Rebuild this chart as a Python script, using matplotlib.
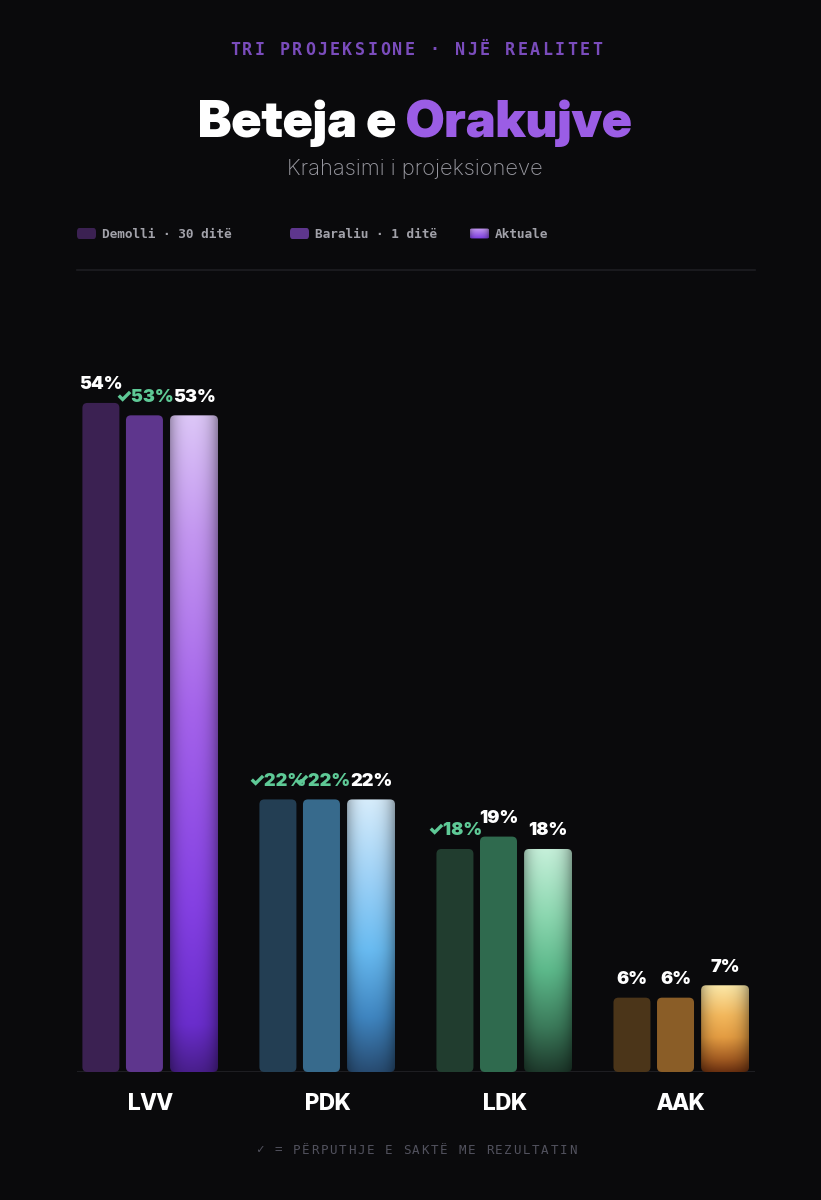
import numpy as np
import matplotlib
matplotlib.use("Agg")
import matplotlib.pyplot as plt
from matplotlib.patches import FancyBboxPatch
from matplotlib.colors import to_rgb

# --- data ---
parties = ["LVV", "PDK", "LDK", "AAK"]
demolli = [54, 22, 18, 6]
baraliu = [53, 22, 19, 6]
aktuale = [53, 22, 18, 7]
demolli_match = [False, True, True, False]
baraliu_match = [True, True, False, False]
series_names = ["Demolli · 30 ditë", "Baraliu · 1 ditë", "Aktuale"]

# colours per party
demolli_cols = ["#3b2152", "#233e53", "#213d2f", "#4b3519"]
baraliu_cols = ["#5e368d", "#376a8c", "#2f6a4e", "#8a5d27"]
aktuale_grad = [
    [(0.0, "#dcc6f7"), (0.18, "#c396f0"), (0.45, "#a463ea"), (0.75, "#8440e2"), (0.93, "#6a2dcc"), (1.0, "#4a1f8e")],
    [(0.0, "#d6ecfb"), (0.3, "#9bd0f6"), (0.55, "#69bbf1"), (0.8, "#3f85c0"), (1.0, "#284c72")],
    [(0.0, "#c6f0da"), (0.3, "#8cd7b0"), (0.55, "#5cb88a"), (0.8, "#3b7a5a"), (1.0, "#1e3a2c")],
    [(0.0, "#fbe8a8"), (0.35, "#f2b75c"), (0.6, "#e39c42"), (0.85, "#a35c22"), (1.0, "#6a3010")],
]

BG = "#0a0a0c"
GREEN = "#5ec996"
W, H = 821, 1200

fig = plt.figure(figsize=(W / 100, H / 100), dpi=100)
fig.patch.set_facecolor(BG)

# axes: x 77..755 px, y baseline 1072 px, top 300 px
ax = fig.add_axes([77 / W, (H - 1072) / H, (755 - 77) / W, (1072 - 300) / H])
ax.set_facecolor(BG)
ax.set_xlim(-0.415, 3.415)
ymax = (1072 - 300) / 12.39
ax.set_ylim(0, ymax)
ax.axis("off")
ax.axhline(0, color="#1e1e22", lw=1.5, zorder=1)

px_x = 177.0
px_y = 12.39
aspect = px_x / px_y
rad = 5 / px_x

offsets = [-0.28, -0.034, 0.246]
widths = [0.209, 0.209, 0.271]


def grad_image(stops, n=200, m=60):
    t = np.linspace(0, 1, n)
    pos = [s[0] for s in stops]
    cols = np.array([to_rgb(s[1]) for s in stops])
    img = np.zeros((n, m, 3))
    for c in range(3):
        col = np.interp(t, pos, cols[:, c])
        img[:, :, c] = col[:, None]
    # horizontal shading, darker edges
    u = np.linspace(-1, 1, m)
    shade = 1 - 0.28 * np.abs(u) ** 3 - 0.06 * np.clip(u, 0, 1)
    img = img * shade[None, :, None]
    return np.clip(img, 0, 1)


def rbar(x, w, h, color=None, stops=None):
    p = FancyBboxPatch((x - w / 2 + rad, rad * aspect), w - 2 * rad, h - 2 * rad * aspect,
                       boxstyle="round,pad=%f,rounding_size=%f" % (rad, rad),
                       mutation_aspect=aspect, lw=0,
                       facecolor=color if color else "none", zorder=2)
    ax.add_patch(p)
    if stops is not None:
        im = ax.imshow(grad_image(stops), extent=[x - w / 2, x + w / 2, 0, h],
                       aspect="auto", zorder=3, interpolation="bilinear")
        im.set_clip_path(p)


val_font = ["Inter", "DejaVu Sans"]
disp_font = ["Inter Display", "Inter", "DejaVu Sans"]


def label(x, h, v, match):
    txt = ("✓" if match else "") + "%d%%" % v
    ax.annotate(txt, (x, h), xytext=(0, 7), textcoords="offset points",
                ha="center", va="bottom", fontsize=13, fontweight=900,
                family=val_font, color=GREEN if match else "white", zorder=5)


for i in range(len(parties)):
    x0 = offsets[0] + i
    rbar(x0, widths[0], demolli[i], color=demolli_cols[i])
    label(x0, demolli[i], demolli[i], demolli_match[i])
    x1 = offsets[1] + i
    rbar(x1, widths[1], baraliu[i], color=baraliu_cols[i])
    label(x1, baraliu[i], baraliu[i], baraliu_match[i])
    x2 = offsets[2] + i
    rbar(x2, widths[2], aktuale[i], stops=aktuale_grad[i])
    label(x2, aktuale[i], aktuale[i], False)
    fig.text((150.5 + 177 * i) / W, 1 - 1104 / H, parties[i], ha="center", va="center",
             fontsize=16, fontweight=800, family=disp_font, color="white")


def spaced(text, cx, cy, pitch, **kw):
    n = len(text)
    start = cx - pitch * (n - 1) / 2
    for k, ch in enumerate(text):
        fig.text((start + k * pitch) / W, 1 - cy / H, ch, ha="center", va="center", **kw)


# kicker
spaced("TRI PROJEKSIONE · NJË REALITET", 416, 50, 12.5,
       fontsize=12, fontweight="bold", family="DejaVu Sans Mono", color="#7a4cbc")

# title in two colours, scaled to the reference width
fig.canvas.draw()
r = fig.canvas.get_renderer()
t1 = fig.text(0, 0, "Beteja e ", fontsize=38, fontweight=900, family=disp_font, color="white")
t2 = fig.text(0, 0, "Orakujve", fontsize=38, fontweight=900, family=disp_font, color="#9b5de5")
w_all = t1.get_window_extent(r).width + t2.get_window_extent(r).width
size = 38 * 434 / w_all
t1.set_fontsize(size)
t2.set_fontsize(size)
w1 = t1.get_window_extent(r).width
w2 = t2.get_window_extent(r).width
left = 415 - (w1 + w2) / 2
for t, xx in ((t1, left), (t2, left + w1)):
    t.set_position((xx / W, 1 - 137 / H))
    t.set_va("baseline")

fig.text(415 / W, 1 - 169 / H, "Krahasimi i projeksioneve", ha="center", va="center",
         fontsize=15.8, fontweight="light", family=val_font, color="#9a9aa2")

# legend
leg_x = [77, 290, 470]
leg_cols = [demolli_cols[0], baraliu_cols[0], None]
for k, name in enumerate(series_names):
    sw, sh = 19 / W, 11 / H
    if leg_cols[k]:
        fig.patches.append(FancyBboxPatch((leg_x[k] / W, 1 - 239 / H), sw, sh,
                                          boxstyle="round,pad=0,rounding_size=0.003",
                                          transform=fig.transFigure, facecolor=leg_cols[k], lw=0))
    else:
        lax = fig.add_axes([leg_x[k] / W, 1 - 239 / H, sw, sh])
        lax.axis("off")
        p = FancyBboxPatch((0.05, 0.1), 0.9, 0.8, boxstyle="round,pad=0.05,rounding_size=0.1",
                           transform=lax.transAxes, facecolor="none", lw=0)
        lax.add_patch(p)
        im = lax.imshow(grad_image([(0, "#c79cf2"), (1, "#7a3ae0")]), extent=[0, 1, 0, 1],
                        aspect="auto", transform=lax.transAxes)
        im.set_clip_path(p)
        lax.set_xlim(0, 1)
        lax.set_ylim(0, 1)
    fig.text((leg_x[k] + 25) / W, 1 - 234 / H, name, ha="left", va="center",
             fontsize=9.2, fontweight="bold", family="DejaVu Sans Mono", color="#a2a2aa")

# separator
fig.add_artist(plt.Line2D([77 / W, 755 / W], [1 - 270 / H, 1 - 270 / H],
                          transform=fig.transFigure, color="#1e1e22", lw=1.2))

# footnote
spaced("✓ = PËRPUTHJE E SAKTË ME REZULTATIN", 416, 1150, 9.2,
       fontsize=9, family="DejaVu Sans Mono", color="#52525e")

fig.savefig("out.png", dpi=100, facecolor=BG)
